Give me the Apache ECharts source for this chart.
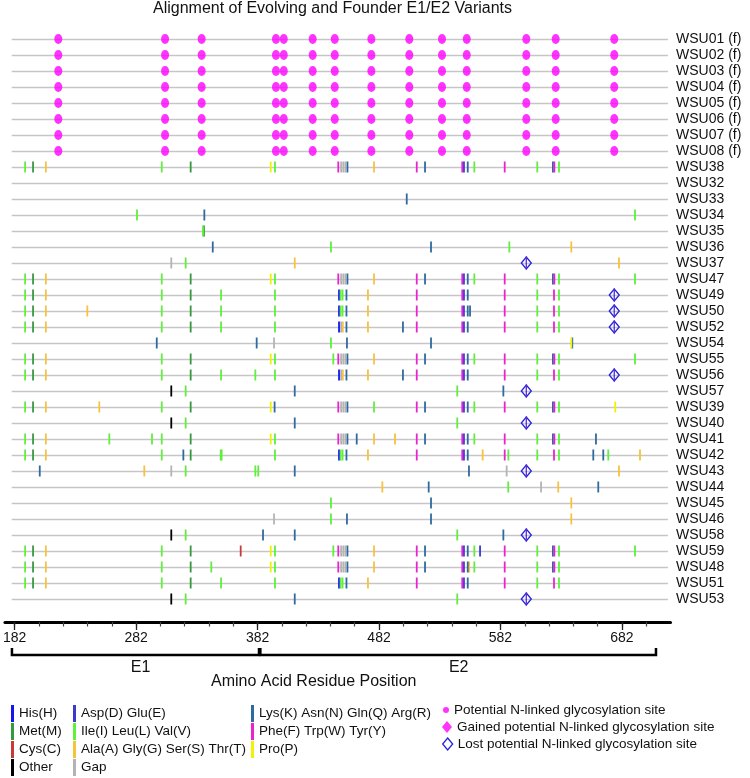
<!DOCTYPE html>
<html><head><meta charset="utf-8">
<script src="https://cdn.jsdelivr.net/npm/echarts@6/dist/echarts.min.js"></script>
<style>html,body{margin:0;padding:0;background:#fff}#c{width:750px;height:778px}</style>
</head><body><div id="c"></div>
<script>
// ---------- DATA ----------
const rowNames = ['WSU01 (f)','WSU02 (f)','WSU03 (f)','WSU04 (f)','WSU05 (f)','WSU06 (f)','WSU07 (f)','WSU08 (f)',
  'WSU38','WSU32','WSU33','WSU34','WSU35','WSU36','WSU37','WSU47','WSU49','WSU50','WSU52','WSU54','WSU55','WSU56',
  'WSU57','WSU39','WSU40','WSU41','WSU42','WSU43','WSU44','WSU45','WSU46','WSU58','WSU59','WSU48','WSU51','WSU53'];
const founderRows = ['WSU01 (f)','WSU02 (f)','WSU03 (f)','WSU04 (f)','WSU05 (f)','WSU06 (f)','WSU07 (f)','WSU08 (f)'];
const glycoSites = [220.2, 307.7, 337.7, 398.6, 405, 428.7, 446.8, 476.8, 507.9, 534.7, 555, 603.8, 627.9, 675.9];
const lostSites = [['WSU37',603.8],['WSU49',675.9],['WSU50',675.9],['WSU52',675.9],['WSU56',675.9],
  ['WSU57',603.8],['WSU40',603.8],['WSU43',603.8],['WSU58',603.8],['WSU53',603.8]];
const gainedSites = [];

const classCodes  = ['H','M','C','X','DE','ILV','AGST','GAP','KNQR','FWY','P'];
const classNames  = ['His(H)','Met(M)','Cys(C)','Other','Asp(D) Glu(E)','Ile(I) Leu(L) Val(V)','Ala(A) Gly(G) Ser(S) Thr(T)','Gap',
  'Lys(K) Asn(N) Gln(Q) Arg(R)','Phe(F) Trp(W) Tyr(Y)','Pro(P)'];
const classColors = ['#1414F5','#359A3C','#C83A3A','#000000','#3A3ACC','#5EF03A','#F8C23A','#B4B4B4','#2F6A9E','#EA22D0','#F2F200'];

const wsu38 = [[193,'ILV'],[199.5,'M'],[210,'AGST'],[305,'ILV'],[328.7,'M'],[394.3,'P'],[397.8,'ILV'],[449.7,'FWY'],[452,'GAP'],[453.8,'GAP'],[455.5,'GAP'],[457.2,'KNQR'],[479,'AGST'],[514,'FWY'],[520.8,'KNQR'],[551.3,'FWY'],[552.7,'DE'],[555.8,'KNQR'],[561.2,'ILV'],[586.1,'FWY'],[612.8,'ILV'],[625.6,'KNQR'],[626.8,'FWY'],[630.6,'ILV']];
const wsu32 = [];
const wsu33 = [[505.8,'KNQR']];
const wsu34 = [[284.7,'ILV'],[339.9,'KNQR'],[692.9,'ILV']];
const wsu35 = [[338.8,'ILV'],[339.6,'M']];
const wsu36 = [[346.8,'KNQR'],[443.7,'ILV'],[525.7,'KNQR'],[589.9,'ILV'],[640.7,'AGST']];
const wsu37 = [[312.8,'GAP'],[324.6,'ILV'],[414,'AGST'],[679.8,'AGST']];
const wsu47 = [[193,'ILV'],[199.5,'M'],[210,'AGST'],[305,'ILV'],[328.7,'M'],[394.3,'P'],[397.8,'ILV'],[449.7,'FWY'],[452,'GAP'],[453.8,'GAP'],[455.5,'GAP'],[457.2,'KNQR'],[479,'AGST'],[514,'FWY'],[520.8,'KNQR'],[551.3,'FWY'],[552.7,'DE'],[555.8,'KNQR'],[561.2,'ILV'],[586.1,'FWY'],[612.8,'ILV'],[625.6,'KNQR'],[626.8,'FWY'],[630.6,'ILV'],[692.9,'ILV']];
const wsu49 = [[193,'ILV'],[199.5,'M'],[210,'AGST'],[305,'ILV'],[328.7,'M'],[353.6,'ILV'],[397.8,'ILV'],[450.3,'H'],[451.6,'ILV'],[453.2,'ILV'],[456.4,'KNQR'],[474,'AGST'],[514,'FWY'],[551.3,'FWY'],[552.7,'DE'],[555.8,'KNQR'],[586.1,'FWY'],[612.8,'ILV'],[626.5,'FWY'],[630.6,'ILV']];
const wsu50 = [[193,'ILV'],[199.5,'M'],[210,'AGST'],[244,'AGST'],[305,'ILV'],[328.7,'M'],[353.6,'ILV'],[397.8,'ILV'],[450.3,'H'],[451.6,'ILV'],[453.2,'ILV'],[456.4,'KNQR'],[474,'AGST'],[514,'FWY'],[551.3,'FWY'],[552.7,'DE'],[555.8,'KNQR'],[557.7,'KNQR'],[586.1,'FWY'],[612.8,'ILV'],[626.5,'FWY'],[630.6,'ILV']];
const wsu52 = [[193,'ILV'],[199.5,'M'],[210,'AGST'],[305,'ILV'],[328.7,'M'],[353.6,'ILV'],[397.8,'ILV'],[450.3,'H'],[452,'GAP'],[453.4,'AGST'],[456.4,'KNQR'],[474,'AGST'],[502.7,'KNQR'],[514,'FWY'],[551.3,'FWY'],[552.7,'DE'],[555.8,'KNQR'],[586.1,'FWY'],[612.8,'ILV'],[626.5,'FWY'],[630.6,'ILV']];
const wsu54 = [[300.9,'KNQR'],[382.8,'KNQR'],[397,'GAP'],[443.7,'ILV'],[456.8,'KNQR'],[525.7,'KNQR'],[640.7,'P'],[641.5,'KNQR']];
const wsu55 = [[193,'ILV'],[199.5,'M'],[210,'AGST'],[305,'ILV'],[328.7,'M'],[394.3,'P'],[397.8,'ILV'],[445.6,'ILV'],[449.7,'FWY'],[452,'GAP'],[453.8,'GAP'],[455.5,'GAP'],[457.2,'KNQR'],[479,'AGST'],[514,'FWY'],[520.8,'KNQR'],[551.3,'FWY'],[552.7,'DE'],[555.8,'KNQR'],[561.2,'ILV'],[586.1,'FWY'],[612.8,'ILV'],[625.6,'KNQR'],[626.8,'FWY'],[630.6,'ILV'],[692.9,'ILV']];
const wsu56 = [[193,'ILV'],[199.5,'M'],[210,'AGST'],[305,'ILV'],[328.7,'M'],[353.6,'ILV'],[381.7,'ILV'],[397.8,'ILV'],[450.3,'H'],[452,'GAP'],[453.4,'AGST'],[456.4,'KNQR'],[474,'AGST'],[502.7,'KNQR'],[514,'FWY'],[551.3,'FWY'],[552.7,'DE'],[555.8,'KNQR'],[586.1,'FWY'],[612.8,'ILV'],[626.5,'FWY'],[630.6,'ILV']];
const wsu57 = [[312.8,'X'],[324.6,'ILV'],[414,'KNQR'],[547.2,'ILV'],[585,'KNQR']];
const wsu39 = [[193,'ILV'],[199.5,'M'],[210,'AGST'],[253.8,'AGST'],[305,'ILV'],[328.7,'M'],[394.3,'P'],[397.5,'KNQR'],[449.7,'FWY'],[452,'GAP'],[453.8,'GAP'],[455.5,'GAP'],[457.2,'KNQR'],[479,'ILV'],[514,'FWY'],[520.8,'KNQR'],[551.3,'FWY'],[552.7,'DE'],[555.8,'KNQR'],[561.2,'ILV'],[586.1,'FWY'],[612.8,'ILV'],[625.6,'KNQR'],[626.8,'FWY'],[630.6,'ILV'],[676.7,'P']];
const wsu40 = [[312.8,'X'],[324.6,'ILV'],[414,'KNQR'],[547.2,'ILV']];
const wsu41 = [[193,'ILV'],[199.5,'M'],[210,'AGST'],[262,'ILV'],[297,'ILV'],[305,'ILV'],[328.7,'M'],[394.3,'P'],[397.8,'ILV'],[449.7,'FWY'],[452,'GAP'],[453.8,'GAP'],[455.5,'GAP'],[457.2,'KNQR'],[464.8,'KNQR'],[479,'AGST'],[496.2,'AGST'],[514,'FWY'],[520.8,'KNQR'],[551.3,'FWY'],[552.7,'DE'],[555.8,'KNQR'],[561.2,'ILV'],[586.1,'FWY'],[612.8,'ILV'],[625.6,'KNQR'],[626.8,'FWY'],[630.6,'ILV'],[660.9,'KNQR']];
const wsu42 = [[193,'ILV'],[199.5,'M'],[210,'AGST'],[305,'ILV'],[322.7,'KNQR'],[328.7,'M'],[353.3,'ILV'],[354.1,'ILV'],[397.8,'ILV'],[450.3,'H'],[451.6,'ILV'],[453.2,'ILV'],[456.4,'KNQR'],[474,'AGST'],[514,'FWY'],[551.3,'FWY'],[552.7,'DE'],[555.8,'KNQR'],[568,'AGST'],[586.1,'FWY'],[589.1,'ILV'],[612.8,'ILV'],[626.5,'FWY'],[630.6,'ILV'],[658.7,'KNQR'],[666.9,'KNQR'],[671,'ILV'],[697,'AGST']];
const wsu43 = [[205,'KNQR'],[290.7,'AGST'],[312.8,'GAP'],[324.6,'ILV'],[381.7,'ILV'],[384.1,'ILV'],[414,'KNQR'],[556.8,'KNQR'],[587.7,'GAP'],[679.8,'AGST']];
const wsu44 = [[485.8,'AGST'],[523.8,'KNQR'],[589,'ILV'],[615.9,'GAP'],[630,'AGST'],[662.8,'KNQR']];
const wsu45 = [[443.7,'ILV'],[525.7,'KNQR'],[640.7,'AGST']];
const wsu46 = [[397,'GAP'],[443.7,'ILV'],[456.8,'KNQR'],[525.7,'KNQR'],[640.7,'AGST']];
const wsu58 = [[312.8,'X'],[324.6,'ILV'],[388,'KNQR'],[414,'KNQR'],[547.2,'ILV'],[585,'KNQR']];
const wsu59 = [[193,'ILV'],[199.5,'M'],[210,'AGST'],[305,'ILV'],[328.7,'M'],[369.7,'C'],[394.3,'P'],[397.8,'ILV'],[445.6,'ILV'],[449.7,'FWY'],[452,'GAP'],[453.8,'GAP'],[455.5,'GAP'],[457.2,'KNQR'],[479,'AGST'],[514,'FWY'],[520.8,'KNQR'],[551.3,'FWY'],[552.7,'DE'],[555.8,'KNQR'],[561.2,'ILV'],[565.9,'DE'],[586.1,'FWY'],[612.8,'ILV'],[625.6,'KNQR'],[626.8,'FWY'],[630.6,'ILV'],[692.9,'ILV']];
const wsu48 = [[193,'ILV'],[199.5,'M'],[210,'AGST'],[305,'ILV'],[328.7,'M'],[345.6,'ILV'],[394.3,'P'],[397.8,'ILV'],[449.7,'FWY'],[452,'GAP'],[453.8,'GAP'],[455.5,'GAP'],[457.2,'KNQR'],[479,'AGST'],[514,'FWY'],[520.8,'KNQR'],[551.3,'FWY'],[552.7,'DE'],[555.8,'KNQR'],[557,'AGST'],[561.2,'ILV'],[586.1,'FWY'],[612.8,'ILV'],[625.6,'KNQR'],[626.8,'FWY'],[630.6,'ILV']];
const wsu51 = [[193,'ILV'],[199.5,'M'],[210,'AGST'],[305,'ILV'],[328.7,'M'],[353.6,'ILV'],[397.8,'ILV'],[450.3,'H'],[451.6,'ILV'],[453.2,'ILV'],[456.4,'KNQR'],[474,'AGST'],[514,'FWY'],[551.3,'FWY'],[552.7,'DE'],[555.8,'KNQR'],[586.1,'FWY'],[612.8,'ILV'],[626.5,'FWY'],[630.6,'ILV']];
const wsu53 = [[312.8,'X'],[324.6,'ILV'],[414,'KNQR'],[547.2,'ILV']];

const majorTicks = [182, 282, 382, 482, 582, 682];
const minorTicks = [182, 202, 222, 242, 262, 282, 302, 322, 342, 362, 382, 402, 422, 442, 462, 482, 502, 522, 542, 562, 582, 602, 622, 642, 662, 682, 702];
const regionNames = ['E1', 'E2'];
const regionStart = [182.2, 385.8];
const regionEnd = [384.7, 710.1];
const regionLabelAt = [287.6, 548.4];

// ---------- BUILD ----------
const variantRows = [['WSU38',wsu38],['WSU32',wsu32],['WSU33',wsu33],['WSU34',wsu34],['WSU35',wsu35],['WSU36',wsu36],['WSU37',wsu37],
  ['WSU47',wsu47],['WSU49',wsu49],['WSU50',wsu50],['WSU52',wsu52],['WSU54',wsu54],['WSU55',wsu55],['WSU56',wsu56],['WSU57',wsu57],
  ['WSU39',wsu39],['WSU40',wsu40],['WSU41',wsu41],['WSU42',wsu42],['WSU43',wsu43],['WSU44',wsu44],['WSU45',wsu45],['WSU46',wsu46],
  ['WSU58',wsu58],['WSU59',wsu59],['WSU48',wsu48],['WSU51',wsu51],['WSU53',wsu53]];

const FONT = '"Liberation Sans", Arial, Helvetica, sans-serif';
const classData = {};
classCodes.forEach(c => classData[c] = []);
variantRows.forEach(([name, marks]) => {
  const idx = rowNames.indexOf(name);
  marks.forEach(([pos, cls]) => classData[cls].push([pos, idx]));
});
const glycoData = [];
founderRows.forEach(r => glycoSites.forEach(s => glycoData.push([s, rowNames.indexOf(r)])));
const lostData = lostSites.map(([r, s]) => [s, rowNames.indexOf(r)]);
const gainedData = gainedSites.map(([r, s]) => [s, rowNames.indexOf(r)]);
const regionData = regionNames.map((n, i) => [regionStart[i], regionEnd[i], regionLabelAt[i]]);

const X0 = 11.7, K = 1.22; // px position of 182 and px per residue
const markSeries = classCodes.map((c, i) => ({
  type: 'custom', name: classNames[i], xAxisIndex: 0, yAxisIndex: 0, z: 3,
  itemStyle: { color: classColors[i] }, data: classData[c], clip: false,
  renderItem: (params, api) => {
    const p = api.coord([api.value(0), api.value(1)]);
    return { type: 'rect', shape: { x: p[0] - 0.9, y: p[1] - 5.5, width: 1.8, height: 11 }, style: { fill: classColors[i] } };
  }
}));

const LOST = '#2424DC';
const legendText = { fontSize: 13.5, fontFamily: FONT, color: '#111' };
const barLegend = (names, left) => ({
  data: names.map(n => ({ name: n, icon: 'rect' })), orient: 'vertical', left: left, top: 705, padding: 0,
  itemWidth: 3, itemHeight: 17, itemGap: 1, selectedMode: false, textStyle: legendText
});

const option = {
  animation: false,
  backgroundColor: '#fff',
  title: [
    { text: 'Alignment of Evolving and Founder E1/E2 Variants', left: 153, top: 1, padding: 0,
      textStyle: { fontSize: 16, fontWeight: 'normal', fontFamily: FONT, color: '#111' } },
    { text: 'Amino Acid Residue Position', left: 211, top: 674, padding: 0,
      textStyle: { fontSize: 16, fontWeight: 'normal', fontFamily: FONT, color: '#111' } }
  ],
  grid: [
    { left: X0, top: 39, width: (720 - 182) * K, height: 560 },
    { left: X0 - 8 * K, top: 612, width: (722 - 174) * K, height: 10 },
    { left: X0 - 8 * K, top: 648, width: (722 - 174) * K, height: 7 }
  ],
  xAxis: [
    { gridIndex: 0, type: 'value', min: 182, max: 720, show: false },
    { gridIndex: 1, type: 'value', min: 174, max: 722, position: 'bottom',
      axisLine: { show: true, lineStyle: { color: '#000', width: 3 } },
      axisTick: { show: true, customValues: minorTicks, length: 4.5, lineStyle: { color: '#444', width: 1.2 } },
      axisLabel: { show: false }, splitLine: { show: false } },
    { gridIndex: 1, type: 'value', min: 174, max: 722, position: 'bottom',
      axisLine: { show: false },
      axisTick: { show: true, customValues: majorTicks, length: 8, lineStyle: { color: '#222', width: 1.3 } },
      axisLabel: { show: true, customValues: majorTicks, margin: 9, fontSize: 14, fontFamily: FONT, color: '#111' },
      splitLine: { show: false } },
    { gridIndex: 2, type: 'value', min: 174, max: 722, show: false }
  ],
  yAxis: [
    { gridIndex: 0, type: 'category', data: rowNames, inverse: true, boundaryGap: false, position: 'right',
      axisLine: { show: false }, axisTick: { show: false },
      axisLabel: { interval: 0, margin: 8, fontSize: 14, fontFamily: FONT, color: '#111' },
      splitLine: { show: true, interval: 0, lineStyle: { color: '#C6C6C6', width: 1.3 } } },
    { gridIndex: 1, type: 'value', show: false },
    { gridIndex: 2, type: 'value', min: 0, max: 1, show: false }
  ],
  legend: [
    barLegend(['His(H)', 'Met(M)', 'Cys(C)', 'Other'], 11),
    barLegend(['Asp(D) Glu(E)', 'Ile(I) Leu(L) Val(V)', 'Ala(A) Gly(G) Ser(S) Thr(T)', 'Gap'], 73),
    barLegend(['Lys(K) Asn(N) Gln(Q) Arg(R)', 'Phe(F) Trp(W) Tyr(Y)', 'Pro(P)'], 251),
    { data: [{ name: 'Potential N-linked glycosylation site', icon: 'circle' }], left: 443, top: 703, padding: 0,
      itemWidth: 6, itemHeight: 6, selectedMode: false, textStyle: legendText },
    { data: [{ name: 'Gained potential N-linked glycosylation site', icon: 'diamond' }], left: 442, top: 720, padding: 0,
      itemWidth: 10, itemHeight: 12, selectedMode: false, textStyle: legendText },
    { data: [{ name: 'Lost potential N-linked glycosylation site', icon: 'diamond',
        itemStyle: { color: '#fff', borderColor: LOST, borderWidth: 1.3 } }], left: 442, top: 737, padding: 0,
      itemWidth: 10, itemHeight: 12, selectedMode: false, textStyle: legendText }
  ],
  series: [
    ...markSeries,
    { type: 'scatter', name: 'Potential N-linked glycosylation site', xAxisIndex: 0, yAxisIndex: 0, z: 4,
      symbol: 'circle', symbolSize: [8, 10], itemStyle: { color: '#FF00FF' }, data: glycoData },
    { type: 'scatter', name: 'Gained potential N-linked glycosylation site', xAxisIndex: 0, yAxisIndex: 0, z: 4,
      symbol: 'diamond', symbolSize: [10, 12], itemStyle: { color: '#FF00FF' }, data: gainedData },
    { type: 'custom', name: 'Lost potential N-linked glycosylation site', xAxisIndex: 0, yAxisIndex: 0, z: 5,
      itemStyle: { color: LOST }, data: lostData, clip: false,
      renderItem: (params, api) => {
        const p = api.coord([api.value(0), api.value(1)]);
        return { type: 'group', children: [
          { type: 'polygon', shape: { points: [[p[0], p[1] - 6], [p[0] + 5, p[1]], [p[0], p[1] + 6], [p[0] - 5, p[1]]] },
            style: { fill: 'rgba(255,255,255,0)', stroke: LOST, lineWidth: 1.3 } },
          { type: 'line', shape: { x1: p[0], y1: p[1] - 6.5, x2: p[0], y2: p[1] + 6.5 },
            style: { stroke: '#5A2AD8', lineWidth: 1.3 } }
        ] };
      } },
    { type: 'custom', name: 'regions', xAxisIndex: 3, yAxisIndex: 2, data: regionData, clip: false, silent: true,
      renderItem: (params, api) => {
        const a = api.coord([api.value(0), 1]);
        const b = api.coord([api.value(1), 0]);
        const lab = api.coord([api.value(2), 0]);
        return { type: 'group', children: [
          { type: 'polyline', shape: { points: [[a[0], a[1]], [a[0], b[1]], [b[0], b[1]], [b[0], a[1]]] },
            style: { stroke: '#000', lineWidth: 2.5, fill: null } },
          { type: 'text', style: { text: regionNames[params.dataIndex], x: lab[0], y: b[1] + 13, align: 'center',
            verticalAlign: 'middle', fontSize: 16, fontFamily: FONT, fill: '#111' } }
        ] };
      } }
  ]
};
const chart = echarts.init(document.getElementById('c'));
chart.setOption(option);
</script></body></html>
